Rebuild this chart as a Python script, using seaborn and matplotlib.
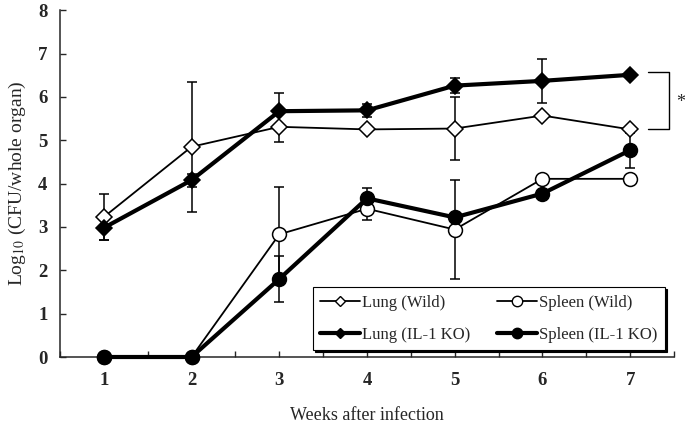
import numpy as np
import matplotlib
matplotlib.use("Agg")
import matplotlib.pyplot as plt
import seaborn as sns
from matplotlib.lines import Line2D

weeks = [1, 2, 3, 4, 5, 6, 7]

lung_wild = [3.23, 4.85, 5.31, 5.25, 5.27, 5.57, 5.25]
lung_wild_err = [0.52, 1.50, 0.36, 0.0, 0.72, 0.0, 0.0]

lung_ko = [2.98, 4.08, 5.67, 5.69, 6.26, 6.37, 6.51]
lung_ko_err = [0.28, 0.15, 0.41, 0.15, 0.18, 0.50, 0.0]

spleen_wild = [0.0, 0.0, 2.83, 3.42, 2.94, 4.11, 4.11]
spleen_wild_err = [0.0, 0.0, 1.10, 0.26, 1.15, 0.0, 0.0]

spleen_ko = [0.0, 0.0, 1.80, 3.66, 3.22, 3.77, 4.77]
spleen_ko_err = [0.0, 0.0, 0.54, 0.23, 0.0, 0.0, 0.40]

legend_labels = ["Lung (Wild)", "Spleen (Wild)", "Lung (IL-1 KO)", "Spleen (IL-1 KO)"]

sns.set_style("ticks")
plt.rcParams["font.family"] = ["Liberation Serif", "DejaVu Serif"]
plt.rcParams["mathtext.fontset"] = "stix"

fig = plt.figure(figsize=(6.85, 4.25), dpi=100)
ax = fig.add_axes([0.0876, 0.16, 0.8964, 0.816])

series = [
    (lung_wild, lung_wild_err, "D", "white", 1.3, 8.5),
    (spleen_wild, spleen_wild_err, "o", "white", 1.3, 10.0),
    (lung_ko, lung_ko_err, "D", "black", 3.0, 8.5),
    (spleen_ko, spleen_ko_err, "o", "black", 3.0, 10.0),
]

for vals, errs, mk, fc, lw, ms in series:
    errs = np.array(errs)
    mask = errs > 0
    ax.errorbar(np.array(weeks)[mask], np.array(vals)[mask], yerr=errs[mask],
                fmt="none", ecolor="black", elinewidth=1.1, capsize=3.5,
                capthick=1.1, zorder=2)
    sns.lineplot(x=weeks, y=vals, ax=ax, color="black", linewidth=lw,
                 marker=mk, markersize=ms, markerfacecolor=fc,
                 markeredgecolor="black", markeredgewidth=1.1,
                 clip_on=False, zorder=3, legend=False)

ax.set_xlim(0.5, 7.5)
ax.set_ylim(0, 8)
xt = np.arange(0.5, 7.51, 0.5)
ax.set_xticks(xt)
ax.set_xticklabels([str(int(t)) if t == int(t) and t >= 1 else "" for t in xt])
ax.set_yticks(range(0, 9))
ax.tick_params(direction="in", length=4.5, width=1.0, labelsize=13.5)
ax.tick_params(axis="x", pad=11)
ax.tick_params(axis="y", pad=9)
for lab in ax.get_xticklabels() + ax.get_yticklabels():
    lab.set_fontweight("bold")
sns.despine(ax=ax)
for sp in ["left", "bottom"]:
    ax.spines[sp].set_linewidth(1.1)

ax.set_xlabel("Weeks after infection", fontsize=13, labelpad=13)
ax.set_ylabel("Log$_{10}$ (CFU/whole organ)", fontsize=14, labelpad=7)

# significance bracket
ax.plot([7.2, 7.44, 7.44, 7.2], [6.57, 6.57, 5.27, 5.27], color="black",
        linewidth=1.0, clip_on=False)
ax.text(7.58, 5.88, "*", fontsize=13, ha="center", va="center")

handles = [
    Line2D([], [], color="black", lw=1.3, marker="D", ms=5.5, mfc="white", mec="black"),
    Line2D([], [], color="black", lw=3.0, marker="D", ms=5.5, mfc="black", mec="black"),
    Line2D([], [], color="black", lw=1.3, marker="o", ms=7.5, mfc="white", mec="black"),
    Line2D([], [], color="black", lw=3.0, marker="o", ms=7.5, mfc="black", mec="black"),
]
labels = [legend_labels[0], legend_labels[2], legend_labels[1], legend_labels[3]]
leg = ax.legend(handles, labels, ncol=2, loc="lower left",
                bbox_to_anchor=(0.412, 0.02, 0.573, 0.18), mode="expand",
                borderaxespad=0,
                fontsize=12, frameon=True, fancybox=False, edgecolor="black",
                handlelength=2.4, handletextpad=0.1, borderpad=0.45,
                labelspacing=0.95, columnspacing=1.0,
                shadow={"color": "black", "alpha": 1, "ox": 1.5, "oy": -1.5})
leg.get_frame().set_linewidth(0.8)

fig.savefig("out.png", dpi=100)
